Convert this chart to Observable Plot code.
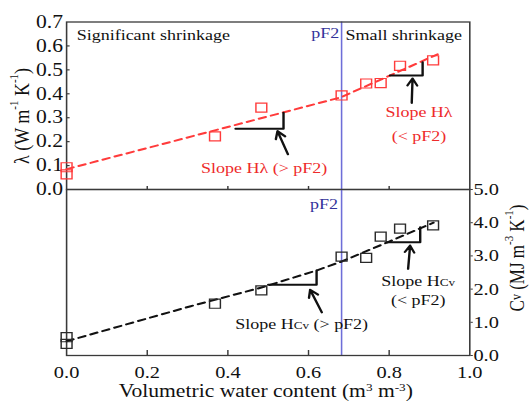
<!DOCTYPE html>
<html><head><meta charset="utf-8">
<script src="https://cdn.jsdelivr.net/npm/d3@7"></script>
<script src="https://cdn.jsdelivr.net/npm/@observablehq/plot@0.6"></script>
<style>
html,body{margin:0;padding:0;background:#fff;overflow:hidden}
#wrap{position:relative;width:441px;height:411px;transform:scaleX(1.2);transform-origin:0 0}
#wrap svg{position:absolute;left:0;overflow:visible !important;background:transparent !important;max-width:none !important}
</style></head><body><div id="wrap"></div>
<script>
// ---- data ----
const waterContent = [0.0, 0.0, 0.368, 0.483, 0.682, 0.743, 0.779, 0.827, 0.909];
const lambdaValues = [0.093, 0.063, 0.222, 0.342, 0.393, 0.443, 0.445, 0.517, 0.540];
const cvValues     = [0.55, 0.35, 1.56, 1.96, 2.98, 2.94, 3.58, 3.82, 3.92];
const lambdaFitX = [0, 0.68, 0.92];
const lambdaFitY = [0.085, 0.385, 0.565];
const cvFitX = [0, 0.308, 0.481, 0.62, 0.684, 0.796, 0.91];
const cvFitY = [0.43, 1.485, 2.04, 2.56, 2.84, 3.41, 4.0];
const pF2 = 0.682;
const xTicks = [0, 0.2, 0.4, 0.6, 0.8, 1.0];
const lambdaTicks = [0, 0.1, 0.2, 0.3, 0.4, 0.5, 0.6, 0.7];
const cvTicks = [0, 1, 2, 3, 4, 5];
// slope triangles (data units)
const lambdaSlopeX = [[0.419, 0.538, 0.538], [0.802, 0.883, 0.883]];
const lambdaSlopeY = [[0.254, 0.254, 0.321], [0.476, 0.476, 0.532]];
const cvSlopeX = [[0.50, 0.62, 0.62], [0.794, 0.877, 0.877]];
const cvSlopeY = [[2.13, 2.13, 2.56], [3.41, 3.41, 3.86]];
// arrows: tail -> head
const lambdaArrows = [[0.549, 0.147, 0.523, 0.244], [0.856, 0.362, 0.858, 0.464]];
const cvArrows = [[0.633, 1.30, 0.604, 1.98], [0.847, 2.61, 0.852, 3.31]];
// notes
const topNotes = ["Significant shrinkage", "Small shrinkage", "pF2", "Slope Hλ (> pF2)", "Slope Hλ", "(< pF2)"];
const topNoteX = [0.025, 0.692, 0.676, 0.49, 0.874, 0.874];
const topNoteY = [0.645, 0.645, 0.652, 0.087, 0.324, 0.222];
const bottomNotes = ["pF2", "Slope HCv (> pF2)", "Slope HCv", "(< pF2)"];
const bottomNoteX = [0.673, 0.583, 0.872, 0.872];
const bottomNoteY = [4.55, 0.955, 2.23, 1.66];

// ---- build ----
const RED = "#ff3b3b", RED_T = "#ee2b2b", NAVY = "#33339a", BLUE = "#6e6ed8", AX = "#3a3a3a";
const W = 441, ML = 55, MR = 50;
const pts = waterContent.map((w, i) => ({w, lam: lambdaValues[i], cv: cvValues[i]}));
const lamFit = lambdaFitX.map((x, i) => ({x, y: lambdaFitY[i]}));
const cvFit = cvFitX.map((x, i) => ({x, y: cvFitY[i]}));
const tri = (X, Y) => X.flatMap((xs, k) => xs.map((x, j) => ({k, x, y: Y[k][j]})));
const arr = A => A.map(([x1, y1, x2, y2]) => ({x1, y1, x2, y2}));
const notes = (T, X, Y) => T.map((t, i) => ({t, x: X[i], y: Y[i]}));
const innerX = xTicks.filter(d => d > 0 && d < 1);
const style = {fontFamily: "'Liberation Serif', 'Times New Roman', serif", fontSize: "17px", background: "transparent", overflow: "visible", color: "#111"};

const topNotesData = notes(topNotes, topNoteX, topNoteY);
const topPlot = Plot.plot({
  width: W, height: 200, marginLeft: ML, marginRight: MR, marginTop: 21.5, marginBottom: 11,
  x: {domain: [0, 1], axis: null},
  y: {domain: [0, 0.7]},
  style,
  marks: [
    Plot.ruleX([pF2], {stroke: BLUE, strokeWidth: 1.3}),
    Plot.frame({stroke: AX, strokeWidth: 1.3}),
    Plot.ruleX(innerX, {x: d => d, y1: () => 0, y2: () => 0, insetTop: -3, stroke: AX, strokeWidth: 1.2}),
    Plot.ruleY(lambdaTicks.slice(1, -1), {y: d => d, x1: () => 0, x2: () => 0, insetRight: -3, stroke: AX, strokeWidth: 1.2}),
    Plot.axisY({ticks: lambdaTicks, tickFormat: d3.format(".1f"), tickSize: 0, tickPadding: 3, label: null, fontSize: 18}),
    Plot.line(lamFit, {x: "x", y: "y", stroke: RED, strokeWidth: 2, strokeDasharray: "6,4.5"}),
    Plot.dot(pts, {x: "w", y: "lam", symbol: "square", r: 5.1, stroke: RED, strokeWidth: 1.2}),
    Plot.line(tri(lambdaSlopeX, lambdaSlopeY), {x: "x", y: "y", z: "k", stroke: "#111", strokeWidth: 2}),
    Plot.arrow(arr(lambdaArrows), {x1: "x1", y1: "y1", x2: "x2", y2: "y2", stroke: "#111", strokeWidth: 2, headLength: 7}),
    Plot.text(topNotesData.slice(0, 2), {x: "x", y: "y", text: "t", textAnchor: "start", fontSize: 15, fill: "#111"}),
    Plot.text(topNotesData.slice(2, 3), {x: "x", y: "y", text: "t", textAnchor: "end", fontSize: 15, fill: NAVY}),
    Plot.text(topNotesData.slice(3), {x: "x", y: "y", text: "t", textAnchor: "middle", fontSize: 15, fill: RED_T})
  ]
});

const bottomNotesData = notes(bottomNotes, bottomNoteX, bottomNoteY);
const bottomPlot = Plot.plot({
  width: W, height: 231, marginLeft: ML, marginRight: MR, marginTop: 9, marginBottom: 56,
  x: {domain: [0, 1]},
  y: {domain: [0, 5]},
  style,
  marks: [
    Plot.ruleX([pF2], {stroke: BLUE, strokeWidth: 1.3}),
    Plot.frame({stroke: AX, strokeWidth: 1.3}),
    Plot.ruleX(innerX, {x: d => d, y1: () => 0, y2: () => 0, insetTop: -5, stroke: AX, strokeWidth: 1.2}),
    Plot.axisX({ticks: xTicks, tickFormat: d3.format(".1f"), tickSize: 0, tickPadding: 10, label: null}),
    Plot.axisY({anchor: "right", ticks: cvTicks, tickFormat: d3.format(".1f"), tickSize: 2, tickPadding: 1, label: null, stroke: AX}),
    Plot.line(cvFit, {x: "x", y: "y", stroke: "#111", strokeWidth: 2, strokeDasharray: "6,4.5"}),
    Plot.dot(pts, {x: "w", y: "cv", symbol: "square", r: 5.1, stroke: "#2a2a2a", strokeWidth: 1.2}),
    Plot.line(tri(cvSlopeX, cvSlopeY), {x: "x", y: "y", z: "k", stroke: "#111", strokeWidth: 2}),
    Plot.arrow(arr(cvArrows), {x1: "x1", y1: "y1", x2: "x2", y2: "y2", stroke: "#111", strokeWidth: 2, headLength: 7}),
    Plot.text(bottomNotesData.slice(0, 1), {x: "x", y: "y", text: "t", textAnchor: "end", fontSize: 15, fill: NAVY}),
    Plot.text(bottomNotesData.slice(1), {x: "x", y: "y", text: "t", textAnchor: "middle", fontSize: 15, fill: "#111"})
  ]
});

const wrap = document.getElementById("wrap");
topPlot.style.top = "0px";
bottomPlot.style.top = "180px";
wrap.appendChild(topPlot);
wrap.appendChild(bottomPlot);

// small-cap "Cv" in slope labels
d3.select(bottomPlot).selectAll("text").each(function () {
  const s = this.textContent;
  if (s.includes("HCv") && this.children.length === 0) {
    const [a, b] = s.split("Cv");
    const t = d3.select(this);
    t.text(null);
    t.append("tspan").text(a);
    t.append("tspan").style("font-size", "11px").text("Cv");
    t.append("tspan").text(b);
  }
});

function sup(t, s) { t.append("tspan").attr("baseline-shift", "super").style("font-size", "11px").text(s); }
// left title
{
  const t = d3.select(topPlot).append("text")
    .attr("transform", "translate(18,116) rotate(-90)")
    .attr("text-anchor", "middle").attr("dominant-baseline", "central")
    .style("font-size", "18px").attr("fill", "#111");
  t.append("tspan").text("λ (W m"); sup(t, "-1"); t.append("tspan").text(" K"); sup(t, "-1"); t.append("tspan").text(")");
}
// right title
{
  const t = d3.select(bottomPlot).append("text")
    .attr("transform", "translate(430,78) rotate(-90)")
    .attr("text-anchor", "middle").attr("dominant-baseline", "central")
    .style("font-size", "17px").attr("fill", "#111");
  t.append("tspan").text("C");
  t.append("tspan").style("font-size", "12px").text("v");
  t.append("tspan").text(" (MJ m"); sup(t, "-3"); t.append("tspan").text(" K"); sup(t, "-1"); t.append("tspan").text(")");
}
// x title
{
  const t = d3.select(bottomPlot).append("text")
    .attr("x", 221.5).attr("y", 217.5)
    .attr("text-anchor", "middle")
    .style("font-size", "18px").attr("fill", "#111");
  t.append("tspan").text("Volumetric water content (m"); sup(t, "3"); t.append("tspan").text(" m"); sup(t, "-3"); t.append("tspan").text(")");
}
</script></body></html>
